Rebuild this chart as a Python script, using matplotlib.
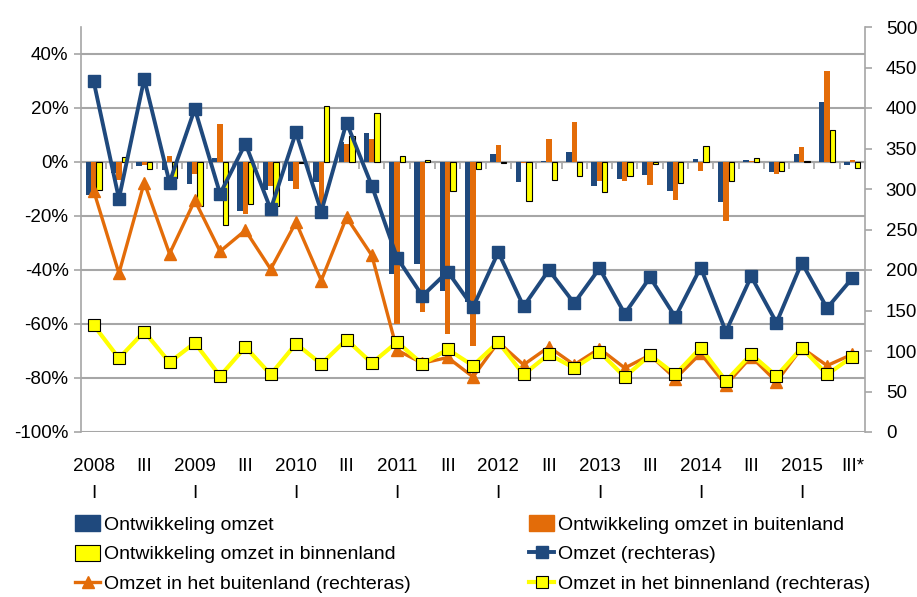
import numpy as np
import matplotlib
matplotlib.use("Agg")
import matplotlib.pyplot as plt
from matplotlib.lines import Line2D
from matplotlib.patches import Patch

plt.rcParams['font.family'] = ['Liberation Sans', 'DejaVu Sans']

# kwartalen 2008 I t/m 2015 III*
kwartalen = ["2008\nI", "II", "III", "IV", "2009\nI", "II", "III", "IV",
             "2010\nI", "II", "III", "IV", "2011\nI", "II", "III", "IV",
             "2012\nI", "II", "III", "IV", "2013\nI", "II", "III", "IV",
             "2014\nI", "II", "III", "IV", "2015\nI", "II", "III*"]

# ontwikkeling (%), linkeras
ontw_omzet = [-12.3, -4, -1.6, -3, -8, 1.6, -18, -10.4, -7, -7.4, 7.5, 10.7,
              -41.5, -37.8, -47.8, -52, 3, -7.3, 0.5, 3.6, -8.9, -6.2, -4.7, -10.9,
              1, -14.8, 0.9, -3.7, 2.8, 22.2, -1]
ontw_buiten = [-11, -6.6, -1, 2.1, -4.3, 14, -19.4, -8.8, -10, -18, 6.7, 8.4,
               -60, -55.4, -63.8, -68, 6.3, -0.3, 8.4, 14.7, -7.2, -7.2, -8.6, -14.2,
               -3.3, -22, 0.4, -4.6, 5.6, 33.6, 0.9]
ontw_binnen = [-10.5, 1.9, -2.5, -6, -16.4, -23.5, -15.5, -16.3, -0.3, 20.6, 9.5, 18.3,
               2.2, 0.7, -10.7, -2.7, -0.5, -14.3, -6.8, -5.3, -11.1, -5.3, -0.7, -7.7,
               5.8, -7, 1.4, -3.2, 0.4, 11.7, -2.1]

# omzet, rechteras
omzet = [433, 288, 436, 308, 399, 294, 356, 275, 370, 272, 382, 304,
         215, 168, 198, 154, 222, 155, 200, 159, 202, 146, 191, 142,
         203, 124, 192, 135, 209, 153, 190]
omzet_buiten = [298, 196, 308, 220, 286, 223, 249, 201, 259, 187, 265, 218,
                101, 85, 92, 68, 111, 83, 105, 83, 103, 79, 95, 66,
                97, 58, 93, 62, 104, 82, 96]
omzet_binnen = [132, 91, 124, 86, 110, 69, 105, 71, 109, 84, 114, 85,
                111, 84, 102, 82, 111, 71, 96, 79, 99, 68, 95, 71,
                104, 63, 96, 69, 104, 71, 93]

blauw = '#1F497D'
oranje = '#E36C09'
geel = '#FFFF00'
grijs = '#A6A6A6'

fig = plt.figure(figsize=(9.17, 5.97), dpi=100)
ax = fig.add_axes([81 / 917, 1 - 432 / 597, 784 / 917, 405 / 597])
x = np.arange(len(kwartalen))
w = 0.21

ax.bar(x - w, ontw_omzet, w, color=blauw, zorder=2)
ax.bar(x, ontw_buiten, w, color=oranje, zorder=2)
ax.bar(x + w, ontw_binnen, w, color=geel, edgecolor='black', linewidth=0.8, zorder=2)

ax.set_xlim(-0.5, len(kwartalen) - 0.5)
ax.set_ylim(-100, 50)
ax.set_yticks(np.arange(-100, 41, 20))
ax.set_yticklabels([f"{v}%" for v in range(-100, 41, 20)])
ax.yaxis.grid(True, color=grijs, linewidth=1.5, zorder=0)
ax.set_axisbelow(True)
ax.set_xticks(x[::2])
ax.set_xticklabels(kwartalen[::2], linespacing=1.75)
ax.tick_params(axis='x', length=0, pad=19, labelsize=13.5)
ax.tick_params(axis='y', length=5, color=grijs, width=1.2, labelsize=13.5, pad=4)
for s in ['top', 'right', 'bottom']:
    ax.spines[s].set_visible(False)
ax.spines['left'].set_color(grijs)
ax.spines['left'].set_linewidth(1.2)

# categorie-as op de nullijn
sec = ax.secondary_xaxis(100 / 150)
sec.set_xticks(np.arange(-0.5, len(kwartalen), 1))
sec.set_xticklabels([])
sec.tick_params(direction='in', length=5, color=grijs, width=1.2)
for s in sec.spines.values():
    s.set_color(grijs)
    s.set_linewidth(1.5)

ax2 = ax.twinx()
ax2.plot(x, omzet, color=blauw, lw=2.8, marker='s', ms=8.5, zorder=3)
ax2.plot(x, omzet_buiten, color=oranje, lw=2.4, marker='^', ms=8.5, zorder=4)
ax2.plot(x, omzet_binnen, color=geel, lw=3, marker='s', ms=8, mfc=geel,
         mec='black', mew=0.8, zorder=5)
ax2.set_ylim(0, 500)
ax2.set_yticks(np.arange(0, 501, 50))
ax2.tick_params(axis='y', length=5, color=grijs, width=1.2, labelsize=13.5, pad=10)
for s in ['top', 'left', 'bottom']:
    ax2.spines[s].set_visible(False)
ax2.spines['right'].set_color(grijs)
ax2.spines['right'].set_linewidth(1.2)

links = [Patch(color=blauw),
         Patch(facecolor=geel, edgecolor='black', linewidth=0.8),
         Line2D([], [], color=oranje, lw=2.4, marker='^', ms=8.5)]
links_txt = ["Ontwikkeling omzet", "Ontwikkeling omzet in binnenland",
             "Omzet in het buitenland (rechteras)"]
rechts = [Patch(color=oranje),
          Line2D([], [], color=blauw, lw=2.8, marker='s', ms=8.5),
          Line2D([], [], color=geel, lw=3, marker='s', ms=8, mfc=geel, mec='black', mew=0.8)]
rechts_txt = ["Ontwikkeling omzet in buitenland", "Omzet (rechteras)",
              "Omzet in het binnenland (rechteras)"]

kw = dict(frameon=False, fontsize=14, handlelength=1.3, handletextpad=0.2,
          labelspacing=0.56, borderpad=0, borderaxespad=0, handleheight=0.9)
fig.legend(links, links_txt, loc='upper left', bbox_to_anchor=(75 / 917, 1 - 515 / 597), **kw)
fig.legend(rechts, rechts_txt, loc='upper left', bbox_to_anchor=(529 / 917, 1 - 515 / 597), **kw)

fig.savefig("out.png", dpi=100)
